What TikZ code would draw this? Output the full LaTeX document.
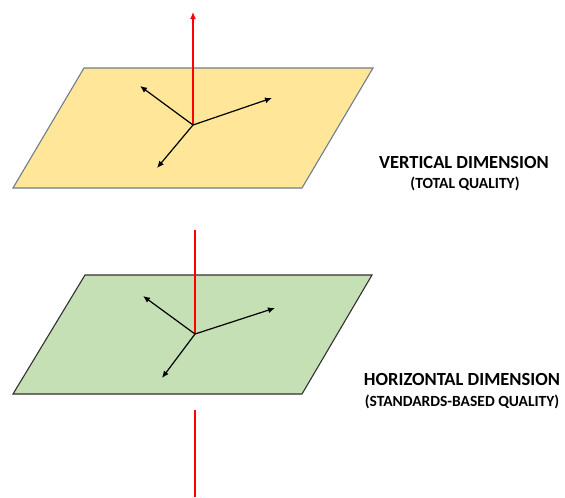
\documentclass[tikz,border=0pt]{standalone}
\usepackage{fontspec}
\setmainfont{Carlito}
\usepackage{tikz}
\usetikzlibrary{arrows.meta, positioning}
\definecolor{planeyellow}{HTML}{FFE699}
\definecolor{planegreen}{HTML}{C5E0B4}
\definecolor{edgeblue}{HTML}{6F7D8C}
\definecolor{edgedark}{HTML}{303030}
\definecolor{axisred}{HTML}{FF0000}

\begin{document}
\begin{tikzpicture}[
  x=1pt, y=-1pt,
  plane/.style={line width=1.1pt, line join=miter},
  axis/.style={-{Latex[length=7pt, width=6pt]}, line width=1.2pt, black},
  updir/.style={draw=axisred, line width=1.1pt},
  title/.style={font=\bfseries\fontsize{18.5}{20}\selectfont, inner sep=0pt},
  subtitle/.style={font=\bfseries\fontsize{15.5}{17}\selectfont, inner sep=0pt},
]
\useasboundingbox (0,0) rectangle (565,498);

% Upper plane -- vertical dimension
\draw[plane, draw=edgeblue, fill=planeyellow]
  (84,68) -- (373,68) -- (302,188) -- (13,188) -- cycle;
\coordinate (vc) at (193,125);
\coordinate (vup) at (193,12);
\coordinate (va) at (140,86);
\coordinate (vb) at (272,98);
\coordinate (vd) at (157,168);
\draw[updir, -{Latex[length=7pt, width=6pt]}, axisred] (vc) -- (vup);
\draw[axis] (vc) -- (va);
\draw[axis] (vc) -- (vb);
\draw[axis] (vc) -- (vd);

% Lower plane -- horizontal dimension
\coordinate (htop) at (195,230);
\coordinate (hlow1) at (195,410);
\coordinate (hlow2) at (195,497);
\draw[plane, draw=edgedark, fill=planegreen]
  (85,275) -- (372,275) -- (302,394) -- (13,394) -- cycle;
\coordinate (hc) at (195,334);
\coordinate (ha) at (143,296);
\coordinate (hb) at (275,308);
\coordinate (hd) at (162,378);
\draw[updir] (htop) -- (hc);
\draw[updir] (hlow1) -- (hlow2);
\draw[axis] (hc) -- (ha);
\draw[axis] (hc) -- (hb);
\draw[axis] (hc) -- (hd);

% Labels
\node[title] (vtitle) at (464,162) {VERTICAL DIMENSION};
\node[subtitle] (vsub) at (465,184) {(TOTAL QUALITY)};
\node[title] (htitle) at (462,379) {HORIZONTAL DIMENSION};
\node[subtitle] (hsub) at (462,402) {(STANDARDS-BASED QUALITY)};

\end{tikzpicture}
\end{document}
